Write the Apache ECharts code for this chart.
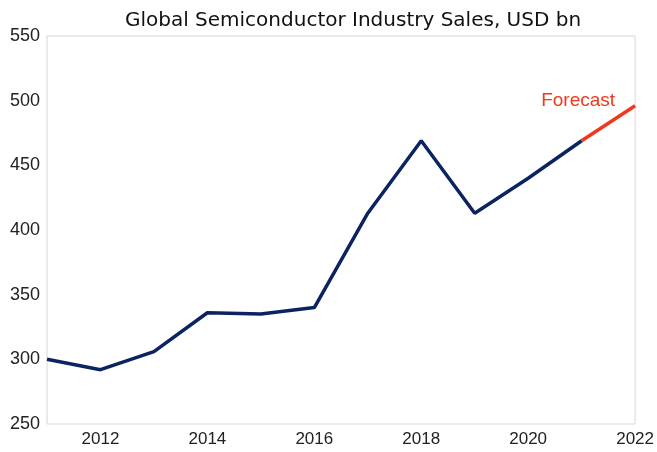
<!DOCTYPE html>
<html>
<head>
<meta charset="UTF-8">
<title>Global Semiconductor Industry Sales</title>
<script type="text/javascript" src="https://cdn.jsdelivr.net/npm/echarts@6/dist/echarts.min.js"></script>
<style>
  body{margin:0;padding:0;background:#fff}
</style>
</head>
<body>
<div id="main" style="width:657px;height:452px"></div>
<script type="text/javascript">
// years on the x axis
var years = ['2011','2012','2013','2014','2015','2016','2017','2018','2019','2020','2021','2022'];
// actual sales, USD bn
var actual = [300, 292, 306, 336, 335, 340, 413, 469, 413, 440, 469, null];
// forecast segment
var forecast = [null, null, null, null, null, null, null, null, null, null, 469, 496];

var myChart = echarts.init(document.getElementById('main'));
var option = {
  animation: false,
  title: {
    text: 'Global Semiconductor Industry Sales, USD bn',
    left: 348,
    textAlign: 'center',
    top: 6,
    textStyle: {fontFamily: 'DejaVu Sans', fontSize: 20, fontWeight: 'normal', color: '#111'}
  },
  grid: {
    left: 47, right: 20, top: 36, bottom: 28,
    show: true, borderColor: '#d6d6d6', borderWidth: 1
  },
  xAxis: {
    type: 'category',
    boundaryGap: false,
    data: years,
    axisLine: {show: false},
    axisTick: {show: false},
    splitLine: {show: false},
    axisLabel: {
      interval: function (idx, val) { return Number(val) % 2 === 0; },
      margin: 7,
      fontFamily: 'Liberation Sans', fontSize: 17, color: '#222'
    }
  },
  yAxis: {
    type: 'value',
    min: 250, max: 550, interval: 50,
    axisLine: {show: false},
    axisTick: {show: false},
    splitLine: {show: false},
    axisLabel: {margin: 7, fontFamily: 'Liberation Sans', fontSize: 18, color: '#222'}
  },
  series: [
    {
      name: 'Sales',
      type: 'line',
      data: actual,
      symbol: 'none',
      lineStyle: {color: '#0b2461', width: 3.5}
    },
    {
      name: 'Forecast',
      type: 'line',
      data: forecast,
      symbol: 'none',
      lineStyle: {color: '#f0381c', width: 3.5},
      markPoint: {
        symbol: 'circle',
        symbolSize: 0,
        data: [{coord: [years[years.length - 1], forecast[forecast.length - 1]]}],
        label: {
          show: true, formatter: 'Forecast', position: 'left', distance: 20, offset: [0, -5],
          fontFamily: 'Liberation Sans', fontSize: 19, color: '#f0381c'
        }
      }
    }
  ]
};
myChart.setOption(option);
</script>
</body>
</html>
